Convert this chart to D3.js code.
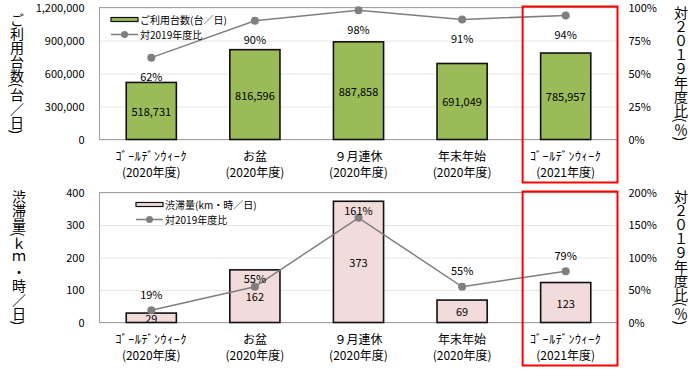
<!DOCTYPE html>
<html>
<head>
<meta charset="utf-8">
<script src="https://cdn.jsdelivr.net/npm/d3@7"></script>
<style>
  body { margin: 0; background: #fff; }
  svg text { font-family: "Noto Sans CJK JP", sans-serif; fill: #000; }
</style>
</head>
<body>
<div id="chart-area"></div>
<script>
// categories (2 lines each)
let catLine1 = ["ｺﾞｰﾙﾃﾞﾝｳｨｰｸ", "お盆", "９月連休", "年末年始", "ｺﾞｰﾙﾃﾞﾝｳｨｰｸ"];
let catLine2 = ["(2020年度)", "(2020年度)", "(2020年度)", "(2020年度)", "(2021年度)"];

// top chart: usage
let usage = [518731, 816596, 887858, 691049, 785957];
let usageRatio = [62, 90, 98, 91, 94];
let usageTicks = [0, 300000, 600000, 900000, 1200000];
let usageRatioTicks = [0, 25, 50, 75, 100];

// bottom chart: congestion
let congestion = [29, 162, 373, 69, 123];
let congestionRatio = [19, 55, 161, 55, 79];
let congestionTicks = [0, 100, 200, 300, 400];
let congestionRatioTicks = [0, 50, 100, 150, 200];

// label offsets for the ratio labels (px, from marker)
let usageLabelDy = [18.5, 18.5, 18.5, 18.5, 18.5];
let congestionLabelDy = [-16.5, -9, -8, -17, -16.5];

let svg = d3.select("#chart-area")
    .append("svg")
    .attr("width", 694)
    .attr("height", 377);

let left = 99.5, right = 617.5;

let x = d3.scaleBand()
    .domain(d3.range(catLine1.length))
    .range([left, right])
    .paddingInner(0.516)
    .paddingOuter(0.258);

function drawChart(opt) {
    let top = opt.top, bottom = opt.bottom;
    let y = d3.scaleLinear().domain([0, d3.max(opt.ticks)]).range([bottom, top]);
    let y2 = d3.scaleLinear().domain([0, d3.max(opt.ratioTicks)]).range([bottom, top]);

    let g = svg.append("g");

    // gridlines
    g.append("g")
        .attr("transform", "translate(" + left + ",0)")
        .call(d3.axisLeft(y).tickValues(opt.ticks).tickSize(-(right - left)).tickFormat(""))
        .call(a => a.select(".domain").remove())
        .selectAll("line")
            .attr("stroke", "#e6e6e6");

    // border
    g.append("rect")
        .attr("x", left)
        .attr("y", top)
        .attr("width", right - left)
        .attr("height", bottom - top)
        .attr("fill", "none")
        .attr("stroke", "#a0a0a0");

    // left axis
    g.append("g")
        .attr("transform", "translate(" + left + ",0)")
        .call(d3.axisLeft(y).tickValues(opt.ticks).tickSize(0).tickPadding(15).tickFormat(opt.fmt))
        .call(a => a.select(".domain").remove())
        .selectAll("text")
            .attr("font-size", "11px");

    // right axis
    g.append("g")
        .attr("transform", "translate(" + right + ",0)")
        .call(d3.axisRight(y2).tickValues(opt.ratioTicks).tickSize(0).tickPadding(11).tickFormat(d => d + "%"))
        .call(a => a.select(".domain").remove())
        .selectAll("text")
            .attr("font-size", "11px");

    // bars
    g.selectAll("rect.bar")
        .data(opt.values)
        .enter()
        .append("rect")
        .attr("class", "bar")
        .attr("x", (d, i) => x(i))
        .attr("y", d => y(d))
        .attr("width", x.bandwidth())
        .attr("height", d => bottom - y(d))
        .attr("fill", opt.color)
        .attr("stroke", "#111")
        .attr("stroke-width", 1.6);

    // bar labels
    g.selectAll("text.barlabel")
        .data(opt.values)
        .enter()
        .append("text")
        .attr("class", "barlabel")
        .attr("x", (d, i) => x(i) + x.bandwidth() / 2)
        .attr("y", d => Math.min((y(d) + bottom) / 2, bottom - 4))
        .attr("text-anchor", "middle")
        .attr("dominant-baseline", "central")
        .attr("font-size", "11px")
        .text(d => opt.fmt(d));

    // ratio line
    let line = d3.line()
        .x((d, i) => x(i) + x.bandwidth() / 2)
        .y(d => y2(d));

    g.append("path")
        .datum(opt.ratio)
        .attr("d", line)
        .attr("fill", "none")
        .attr("stroke", "#7f7f7f")
        .attr("stroke-width", 1.5);

    g.selectAll("circle.pt")
        .data(opt.ratio)
        .enter()
        .append("circle")
        .attr("class", "pt")
        .attr("cx", (d, i) => x(i) + x.bandwidth() / 2)
        .attr("cy", d => y2(d))
        .attr("r", 4)
        .attr("fill", "#7f7f7f");

    g.selectAll("text.ratiolabel")
        .data(opt.ratio)
        .enter()
        .append("text")
        .attr("class", "ratiolabel")
        .attr("x", (d, i) => x(i) + x.bandwidth() / 2)
        .attr("y", (d, i) => y2(d) + opt.labelDy[i])
        .attr("text-anchor", "middle")
        .attr("dominant-baseline", "central")
        .attr("font-size", "11px")
        .text(d => d + "%");

    // category labels
    let cat = g.selectAll("text.cat")
        .data(catLine1)
        .enter()
        .append("text")
        .attr("class", "cat")
        .attr("x", (d, i) => x(i) + x.bandwidth() / 2)
        .attr("text-anchor", "middle")
        .attr("font-size", "12px");
    cat.append("tspan")
        .attr("x", (d, i) => x(i) + x.bandwidth() / 2)
        .attr("y", bottom + 16)
        .attr("dominant-baseline", "central")
        .attr("letter-spacing", d => d.length > 6 ? "0.6px" : null)
        .text(d => d);
    cat.append("tspan")
        .attr("x", (d, i) => x(i) + x.bandwidth() / 2)
        .attr("y", bottom + 32)
        .attr("dominant-baseline", "central")
        .text((d, i) => catLine2[i]);

    // legend
    let lg = g.append("g").attr("transform", "translate(" + opt.legendX + "," + (top + 12) + ")");
    lg.append("rect")
        .attr("x", 0).attr("y", -2)
        .attr("width", 27).attr("height", 4)
        .attr("fill", opt.color)
        .attr("stroke", "#111")
        .attr("stroke-width", 1.2);
    lg.append("text")
        .attr("x", 29).attr("y", 0)
        .attr("dominant-baseline", "central")
        .attr("font-size", "10px")
        .text(opt.legendName);
    lg.append("line")
        .attr("x1", 0).attr("x2", 27)
        .attr("y1", 15).attr("y2", 15)
        .attr("stroke", "#7f7f7f")
        .attr("stroke-width", 1.5);
    lg.append("circle")
        .attr("cx", 13.5).attr("cy", 15).attr("r", 3.5)
        .attr("fill", "#7f7f7f");
    lg.append("text")
        .attr("x", 29).attr("y", 15)
        .attr("dominant-baseline", "central")
        .attr("font-size", "10px")
        .text("対2019年度比");

    // axis titles (vertical)
    g.append("text")
        .attr("x", opt.titleX)
        .attr("y", (top + bottom) / 2)
        .attr("text-anchor", "middle")
        .style("writing-mode", "vertical-rl")
        .attr("font-size", "14px")
        .text(opt.title);
    g.append("text")
        .attr("x", 681)
        .attr("y", (top + bottom) / 2)
        .attr("text-anchor", "middle")
        .style("writing-mode", "vertical-rl")
        .attr("font-size", "14px")
        .text("対２０１９年度比(％)");

    // red highlight box
    g.append("rect")
        .attr("x", x(4) - 18)
        .attr("y", top - 1)
        .attr("width", right - x(4) + 18)
        .attr("height", bottom - top + 44)
        .attr("fill", "none")
        .attr("stroke", "#ff0000")
        .attr("stroke-width", 2);
}

drawChart({
    top: 7.5, bottom: 139.5,
    values: usage, ratio: usageRatio,
    ticks: usageTicks, ratioTicks: usageRatioTicks,
    fmt: d3.format(","),
    color: "#9bbb59",
    labelDy: usageLabelDy,
    legendX: 111,
    legendName: "ご利用台数(台／日)",
    title: "ご利用台数(台／日)",
    titleX: 17
});

drawChart({
    top: 192.5, bottom: 322.5,
    values: congestion, ratio: congestionRatio,
    ticks: congestionTicks, ratioTicks: congestionRatioTicks,
    fmt: d3.format(","),
    color: "#f2dcdb",
    labelDy: congestionLabelDy,
    legendX: 136,
    legendName: "渋滞量(km・時／日)",
    title: "渋滞量(ｋｍ・時／日)",
    titleX: 19
});
</script>
</body>
</html>
